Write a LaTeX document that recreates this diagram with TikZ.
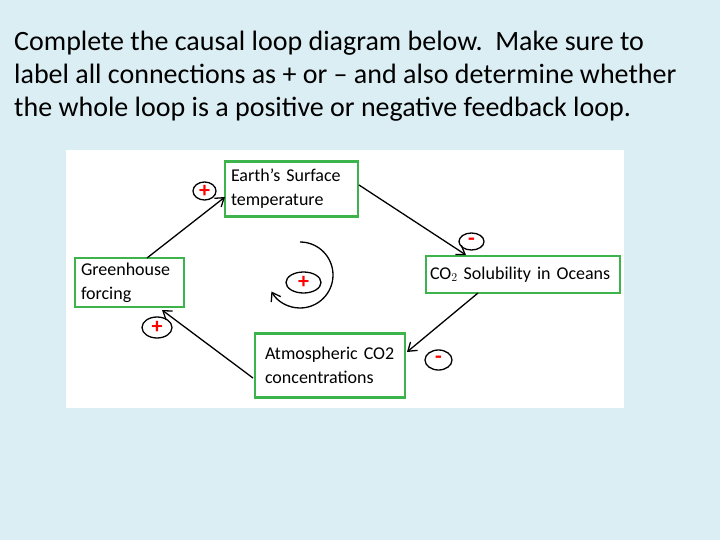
\documentclass[tikz,border=0pt]{standalone}
\usepackage{fontspec}
\setmainfont{Carlito}
\begin{document}
\begin{tikzpicture}[x=1pt,y=-1pt,
  box/.style={draw={rgb,255:red,60;green,180;blue,75}, line width=2.6pt, fill=white, inner sep=0pt, text=black, font=\fontsize{18}{24}\selectfont, align=left},
  sgn/.style={draw=black, line width=1.3pt, ellipse, inner sep=0pt},
  conn/.style={-{Straight Barb[length=8pt,width=11pt]}, line width=1.3pt}]
\usetikzlibrary{arrows.meta,shapes.geometric}
\fill[fill={rgb,255:red,219;green,238;blue,244}] (0,0) rectangle (720,540);
\useasboundingbox (0,0) rectangle (720,540);
\fill[white] (66,150) rectangle (624,408);
\node[anchor=north west, align=left, font=\fontsize{28}{33}\selectfont, inner sep=0pt] (title) at (14,31)
 {Complete the causal loop diagram below.\ \ Make sure to\\label all connections as + or -- and also determine whether\\the whole loop is a positive or negative feedback loop.};
\node[box, minimum width=133pt, minimum height=55pt, text width=121pt] (earth) at (291.5,189) {Earth's Surface\\temperature};
\node[box, minimum width=109pt, minimum height=49pt, text width=97pt] (green) at (129.5,282.5) {Greenhouse\\forcing};
\node[box, minimum width=194pt, minimum height=37pt, text width=186pt] (co2) at (523,274.5) {CO$_2$ Solubility in Oceans};
\node[box, minimum width=150pt, minimum height=64pt, text width=130pt] (atm) at (330,365.5) {Atmospheric CO2\\concentrations};
\coordinate (g1) at (147,258); \coordinate (e1) at (225,197);
\coordinate (e2) at (359,185); \coordinate (c1) at (466,255);
\coordinate (c2) at (478,293); \coordinate (a1) at (407,352);
\coordinate (a2) at (253,378); \coordinate (g2) at (162,310);
\draw[conn] (g1) -- (e1);
\draw[conn] (e2) -- (c1);
\draw[conn] (c2) -- (a1);
\draw[conn] (a2) -- (g2);
\draw[conn] (300,242) arc[start angle=-90, end angle=150, radius=33];
\node[sgn, minimum width=23pt, minimum height=18pt] (s1) at (204.5,191) {};
\node[sgn, minimum width=25pt, minimum height=17pt] (s2) at (471.5,241.5) {};
\node[sgn, minimum width=35pt, minimum height=21pt] (s3) at (303.5,282.5) {};
\node[sgn, minimum width=30pt, minimum height=21pt] (s4) at (157,327.5) {};
\node[sgn, minimum width=27pt, minimum height=20pt] (s5) at (438.5,360) {};
\foreach \n/\t in {s1/+,s2/-,s3/+,s4/+,s5/-}
  \node[text=red, font=\bfseries\fontsize{22}{22}\selectfont, inner sep=0pt] at (\n) {\t};
\end{tikzpicture}
\end{document}
